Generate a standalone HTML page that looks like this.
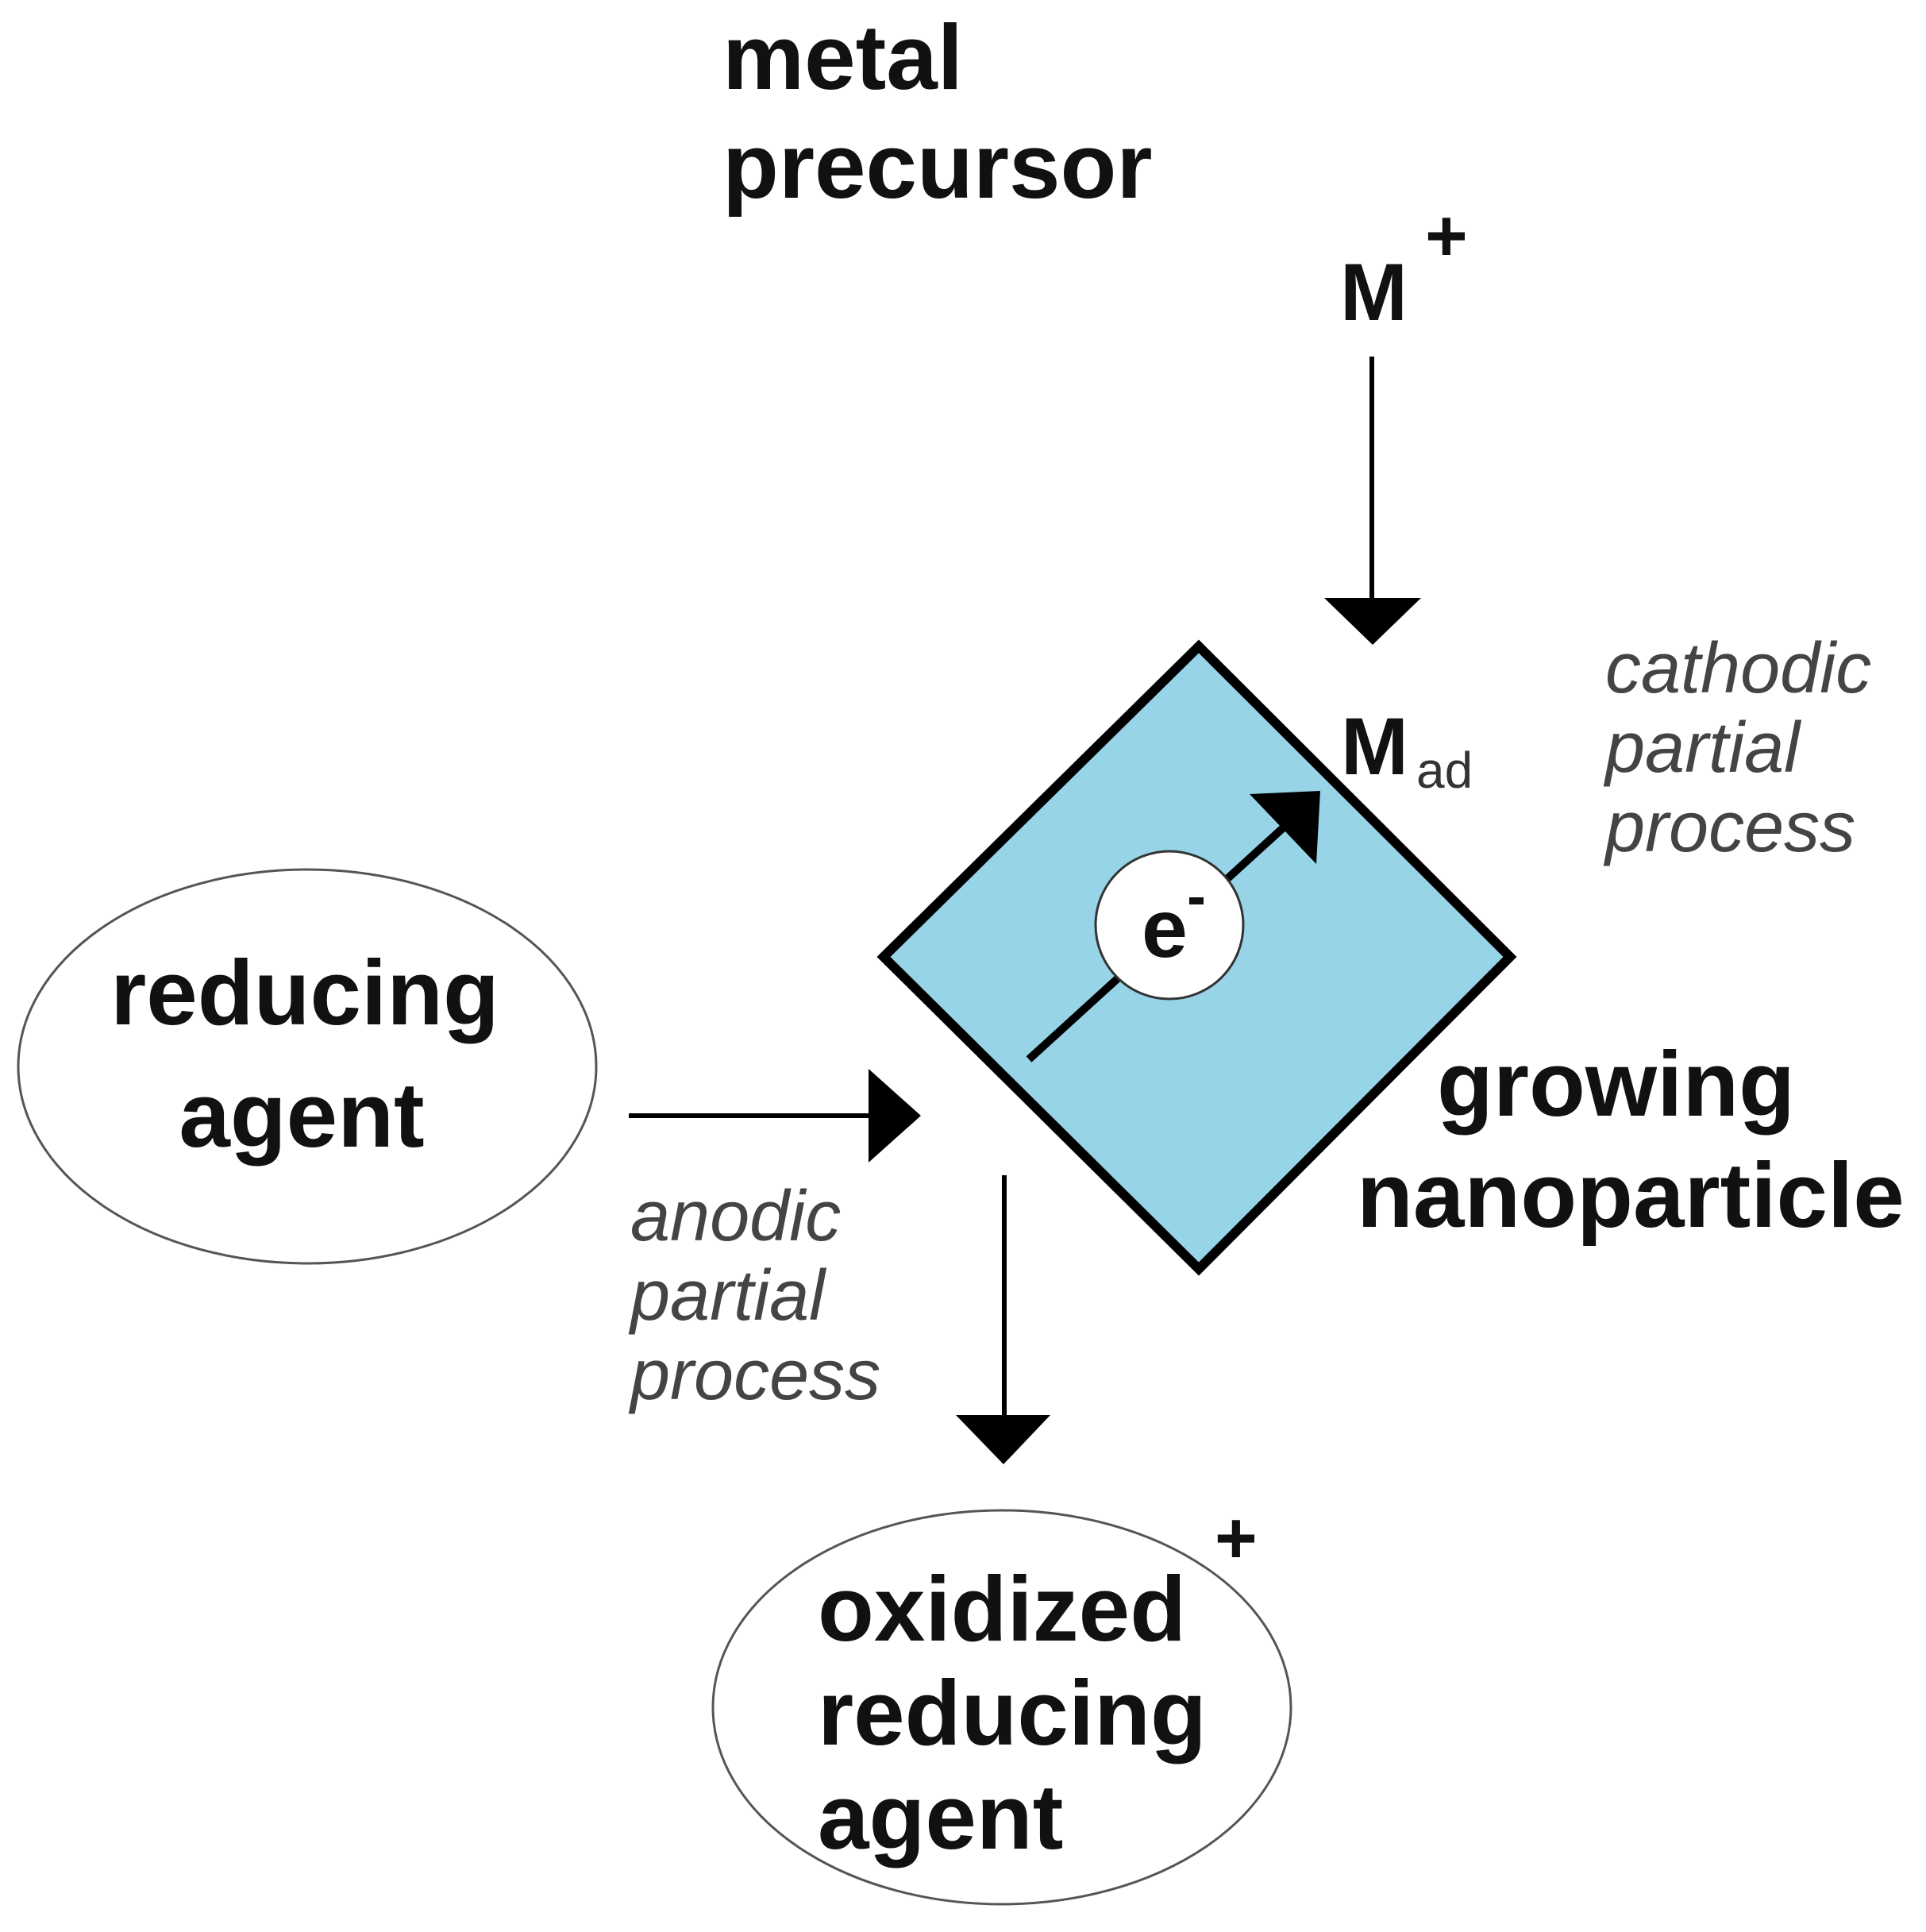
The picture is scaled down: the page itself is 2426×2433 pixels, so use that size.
<!DOCTYPE html>
<html><head><meta charset="utf-8"><style>
html,body{margin:0;padding:0;background:#fff;}
svg{display:block;}
</style></head><body>
<svg width="2426" height="2433" viewBox="0 0 2426 2433" xmlns="http://www.w3.org/2000/svg" font-family="Liberation Sans, Arial, sans-serif">
<rect width="2426" height="2433" fill="#fff"/>
<ellipse cx="387" cy="1343" rx="364" ry="248" fill="#fff" stroke="#555" stroke-width="3"/>
<ellipse cx="1262" cy="2150" rx="364" ry="248" fill="#fff" stroke="#555" stroke-width="3"/>
<polygon points="1510,814 1902,1205 1510,1598 1113,1205" fill="#97d4e8" stroke="#000" stroke-width="12" stroke-linejoin="miter"/>
<line x1="1296" y1="1334" x2="1630" y2="1030" stroke="#000" stroke-width="10"/>
<polygon points="1663,996 1574,1000 1658,1088" fill="#000"/>
<circle cx="1473" cy="1165" r="93" fill="#fff" stroke="#333" stroke-width="3"/>
<text x="1438" y="1205" font-size="104" font-weight="bold" fill="#111">e</text>
<rect x="1498" y="1130" width="18" height="9" fill="#111"/>
<line x1="1728" y1="449" x2="1728" y2="760" stroke="#000" stroke-width="6"/>
<polygon points="1668,753 1790,753 1729,812" fill="#000"/>
<line x1="792" y1="1405" x2="1100" y2="1405" stroke="#000" stroke-width="6"/>
<polygon points="1094,1346 1160,1405 1094,1464" fill="#000"/>
<line x1="1265" y1="1480" x2="1265" y2="1790" stroke="#000" stroke-width="6"/>
<polygon points="1204,1782 1323,1782 1264,1844" fill="#000"/>
<g font-weight="bold" fill="#111" font-size="116">
<text x="910" y="112">metal</text>
<text x="910" y="249">precursor</text>
<text x="1688" y="403" font-size="102">M</text>
<text x="1795" y="328" font-size="92">+</text>
<text x="1689" y="975" font-size="102">M</text>
<text x="384" y="1290" text-anchor="middle" font-size="116">reducing</text>
<text x="380" y="1444" text-anchor="middle" font-size="116">agent</text>
<text x="1810" y="1405" font-size="116">growing</text>
<text x="1709" y="1545" font-size="116">nanoparticle</text>
<text x="1030" y="2066" font-size="116">oxidized</text>
<text x="1030" y="2197" font-size="116">reducing</text>
<text x="1030" y="2328" font-size="116">agent</text>
<text x="1530" y="1968" font-size="92">+</text>
</g>
<text x="1784" y="992" font-size="64" fill="#333">ad</text>
<g font-style="italic" fill="#444" font-size="90">
<text x="2022" y="872">cathodic</text>
<text x="2022" y="972">partial</text>
<text x="2022" y="1072">process</text>
<text x="794" y="1562">anodic</text>
<text x="794" y="1662">partial</text>
<text x="794" y="1762">process</text>
</g>
</svg>
</body></html>
